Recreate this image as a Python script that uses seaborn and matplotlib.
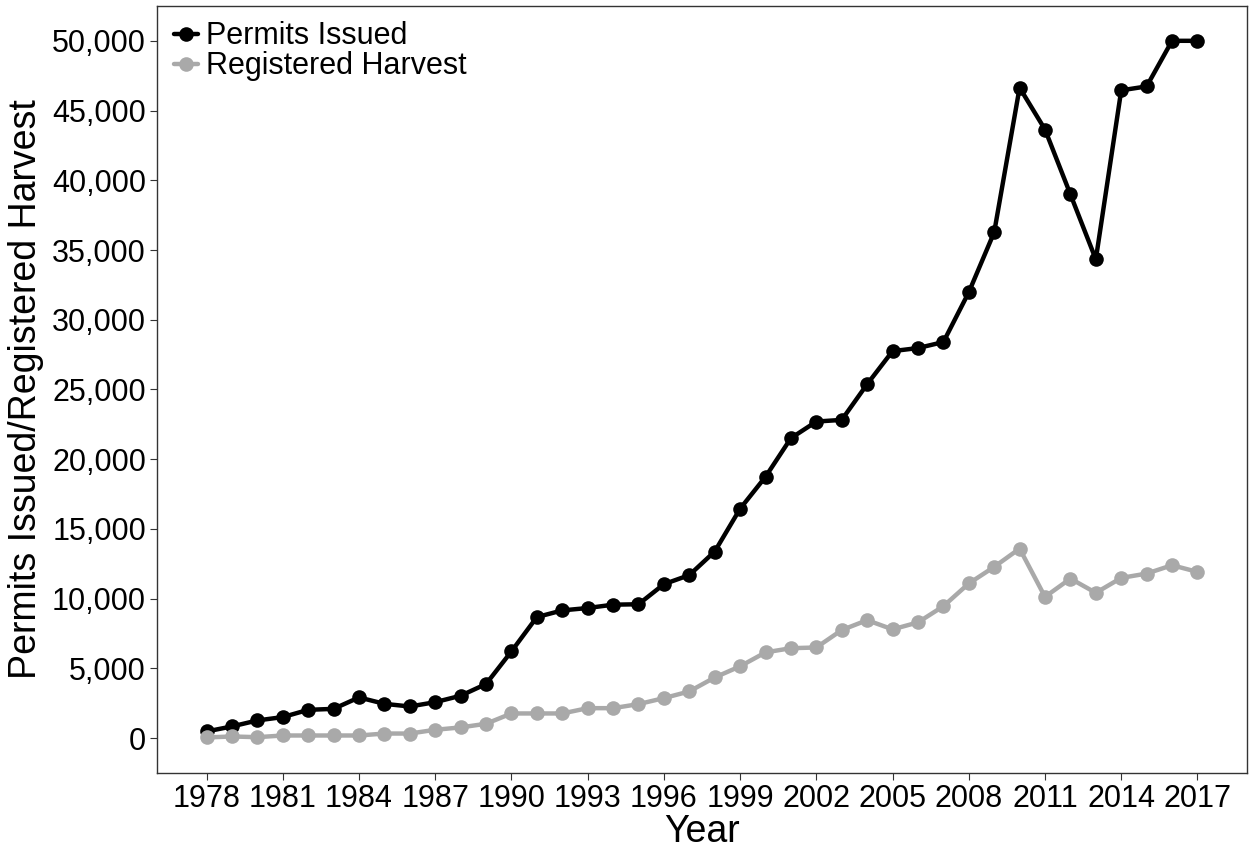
from __future__ import annotations

import matplotlib

matplotlib.use("Agg")

import matplotlib.pyplot as plt
import pandas as pd
import seaborn as sns
from matplotlib.ticker import FuncFormatter

years = list(range(1978, 2018))

permits_issued = [
    480, 840, 1270, 1510, 2030, 2100, 2920, 2460, 2270, 2580,
    3040, 3880, 6220, 8680, 9160, 9330, 9570, 9600, 11040, 11690,
    13380, 16450, 18740, 21510, 22700, 22820, 25380, 27750, 27970, 28400,
    31970, 36270, 46640, 43640, 38990, 34330, 46450, 46730, 50000, 50000,
]

registered_harvest = [
    50, 120, 70, 190, 190, 190, 190, 330, 330, 600,
    770, 1030, 1770, 1770, 1770, 2150, 2150, 2440, 2870, 3350,
    4350, 5150, 6150, 6450, 6500, 7750, 8460, 7800, 8300, 9460,
    11090, 12280, 13590, 10130, 11440, 10420, 11490, 11800, 12400, 11920,
]

series_names = ["Permits Issued", "Registered Harvest"]
series_colors = ["#000000", "#A9A9A9"]
x_ticks = list(range(1978, 2018, 3))
y_ticks = list(range(0, 50001, 5000))


def build_frame() -> pd.DataFrame:
    frames = []
    for name, values in zip(series_names, [permits_issued, registered_harvest]):
        frames.append(pd.DataFrame({"Year": years, "Count": values, "Series": name}))
    return pd.concat(frames, ignore_index=True)


def main() -> None:
    sns.set_theme(style="white")
    plt.rcParams["font.family"] = ["Liberation Sans", "DejaVu Sans"]
    plt.rcParams["text.color"] = "black"
    plt.rcParams["axes.labelcolor"] = "black"

    df = build_frame()
    fig = plt.figure(figsize=(12.49, 8.49), dpi=100)
    ax = fig.add_axes([0.1257, 0.0895, 0.8727, 0.9035])

    sns.lineplot(
        data=df,
        x="Year",
        y="Count",
        hue="Series",
        hue_order=series_names,
        palette=series_colors,
        marker="o",
        markersize=10.5,
        markeredgewidth=0,
        linewidth=3.2,
        ax=ax,
    )

    ax.set_xlim(1978 - 0.05 * 39, 2017 + 0.05 * 39)
    ax.set_ylim(-2500, 52500)
    ax.set_xticks(x_ticks)
    ax.set_yticks(y_ticks)
    ax.yaxis.set_major_formatter(FuncFormatter(lambda v, _: f"{int(v):,}"))
    ax.tick_params(axis="both", which="major", labelsize=22, colors="#333333",
                   length=5, width=0.8, direction="out", labelcolor="black", pad=3)
    ax.tick_params(left=True, bottom=True)
    for spine in ax.spines.values():
        spine.set_color("#333333")
        spine.set_linewidth(1.0)

    ax.set_xlabel("Year", fontsize=27, labelpad=0, color="black")
    ax.set_ylabel("Permits Issued/Registered Harvest", fontsize=27, labelpad=6, color="black")

    handles, labels = ax.get_legend_handles_labels()
    leg = ax.legend(
        handles,
        labels,
        loc="upper left",
        bbox_to_anchor=(-0.004, 1.008),
        frameon=False,
        fontsize=22,
        handlelength=0.8,
        handletextpad=0.25,
        labelspacing=0.0,
        borderaxespad=0.3,
    )
    for text in leg.get_texts():
        text.set_color("black")

    fig.savefig("out.png", dpi=100)
    plt.close(fig)


if __name__ == "__main__":
    main()
